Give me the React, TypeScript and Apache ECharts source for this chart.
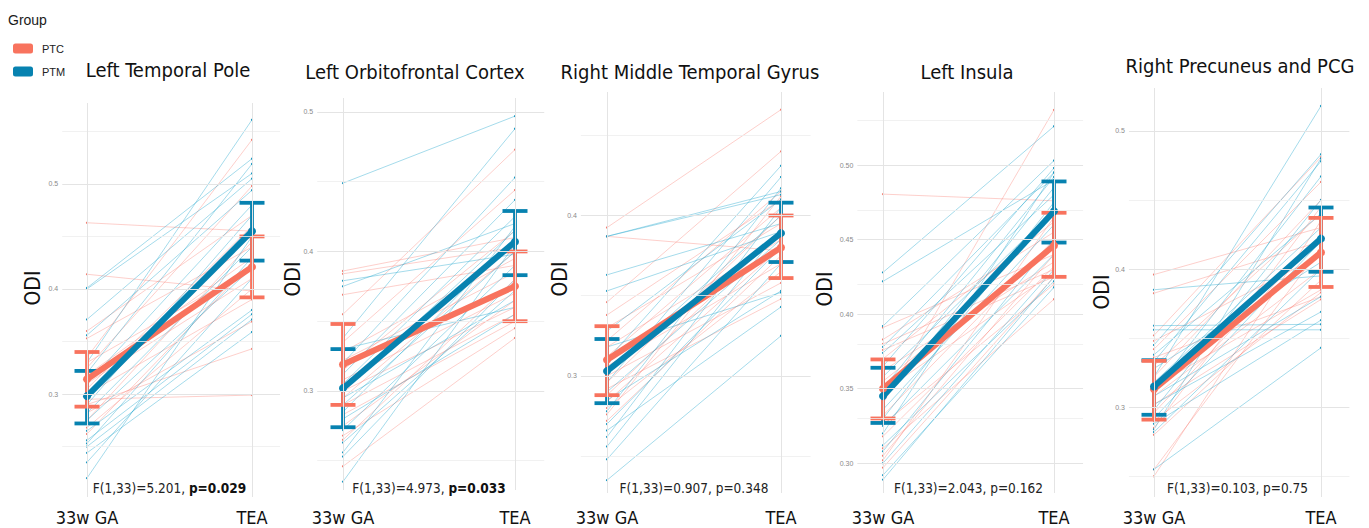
import React, { useEffect, useRef } from "react";
import * as echarts from "echarts";

// ---------- data ----------
const groups = ["PTC", "PTM"];
const timepoints = ["33w GA", "TEA"];
const regions = [
  "Left Temporal Pole",
  "Left Orbitofrontal Cortex",
  "Right Middle Temporal Gyrus",
  "Left Insula",
  "Right Precuneus and PCG",
];
const fLabels = ["F(1,33)=5.201, ", "F(1,33)=4.973, ", "F(1,33)=0.907, ", "F(1,33)=2.043, ", "F(1,33)=0.103, "];
const pLabels = ["p=0.029", "p=0.033", "p=0.348", "p=0.162", "p=0.75"];
const pSignificant = [true, true, false, false, false];

// individual subjects: [33w GA, TEA]
const ltpPTC = [[0.463,0.455],[0.414,0.398],[0.360,0.470],[0.353,0.440],[0.335,0.542],[0.330,0.420],[0.325,0.498],[0.318,0.430],[0.310,0.410],[0.305,0.460],[0.300,0.390],[0.295,0.299],[0.290,0.343],[0.282,0.369],[0.275,0.445],[0.268,0.400],[0.262,0.425]];
const ltpPTM = [[0.401,0.524],[0.400,0.510],[0.371,0.505],[0.356,0.494],[0.330,0.561],[0.320,0.519],[0.310,0.480],[0.300,0.455],[0.290,0.470],[0.282,0.440],[0.275,0.420],[0.265,0.380],[0.256,0.376],[0.253,0.430],[0.250,0.371],[0.244,0.359],[0.235,0.410],[0.220,0.450]];

const lofcPTC = [[0.386,0.410],[0.384,0.403],[0.369,0.390],[0.355,0.473],[0.335,0.444],[0.328,0.395],[0.322,0.385],[0.315,0.415],[0.308,0.370],[0.300,0.360],[0.295,0.400],[0.290,0.355],[0.283,0.350],[0.275,0.365],[0.268,0.345],[0.265,0.380],[0.246,0.338]];
const lofcPTM = [[0.449,0.497],[0.379,0.398],[0.375,0.420],[0.338,0.488],[0.330,0.360],[0.320,0.453],[0.312,0.437],[0.305,0.425],[0.300,0.415],[0.295,0.365],[0.290,0.400],[0.285,0.410],[0.280,0.355],[0.272,0.390],[0.263,0.372],[0.256,0.418],[0.253,0.380],[0.235,0.405]];

const rmtgPTC = [[0.3925,0.466],[0.387,0.378],[0.346,0.440],[0.338,0.410],[0.330,0.395],[0.322,0.415],[0.318,0.385],[0.312,0.405],[0.306,0.370],[0.300,0.358],[0.296,0.400],[0.292,0.348],[0.288,0.390],[0.284,0.380],[0.280,0.365],[0.276,0.412],[0.272,0.375]];
const rmtgPTM = [[0.387,0.413],[0.387,0.415],[0.363,0.395],[0.353,0.390],[0.328,0.410],[0.318,0.352],[0.310,0.431],[0.302,0.400],[0.296,0.424],[0.290,0.385],[0.285,0.353],[0.278,0.417],[0.270,0.380],[0.266,0.343],[0.262,0.405],[0.256,0.392],[0.248,0.370],[0.235,0.325]];

const linsPTC = [[0.4805,0.476],[0.391,0.440],[0.383,0.455],[0.380,0.430],[0.376,0.425],[0.370,0.462],[0.362,0.435],[0.355,0.445],[0.348,0.428],[0.340,0.537],[0.332,0.450],[0.326,0.420],[0.318,0.432],[0.310,0.410],[0.305,0.440],[0.302,0.465],[0.297,0.425]];
const linsPTM = [[0.428,0.526],[0.422,0.490],[0.392,0.503],[0.378,0.495],[0.374,0.480],[0.365,0.498],[0.358,0.470],[0.350,0.492],[0.342,0.485],[0.336,0.460],[0.330,0.475],[0.325,0.440],[0.320,0.495],[0.312,0.422],[0.308,0.450],[0.300,0.430],[0.292,0.418],[0.289,0.425]];

const rpcgPTC = [[0.396,0.430],[0.3825,0.420],[0.352,0.481],[0.348,0.410],[0.342,0.463],[0.336,0.380],[0.330,0.440],[0.322,0.450],[0.315,0.385],[0.308,0.400],[0.302,0.378],[0.296,0.425],[0.290,0.383],[0.285,0.445],[0.280,0.392],[0.255,0.415],[0.250,0.435]];
const rpcgPTM = [[0.385,0.395],[0.359,0.360],[0.356,0.356],[0.345,0.483],[0.338,0.440],[0.333,0.478],[0.328,0.405],[0.322,0.518],[0.318,0.430],[0.312,0.467],[0.308,0.380],[0.302,0.369],[0.298,0.450],[0.292,0.420],[0.288,0.363],[0.284,0.480],[0.282,0.400],[0.255,0.343]];

const subjectsPTC = [ltpPTC, lofcPTC, rmtgPTC, linsPTC, rpcgPTC];
const subjectsPTM = [ltpPTM, lofcPTM, rmtgPTM, linsPTM, rpcgPTM];

// group means [GA, TEA]
const meansPTC = [[0.314,0.421],[0.319,0.375],[0.310,0.380],[0.350,0.446],[0.313,0.412]];
const meansPTM = [[0.298,0.455],[0.302,0.407],[0.303,0.389],[0.345,0.469],[0.315,0.422]];
// error bars: [[GA lo, GA hi], [TEA lo, TEA hi]]
const errPTC = [
  [[0.288,0.340],[0.392,0.450]],
  [[0.290,0.348],[0.350,0.400]],
  [[0.288,0.331],[0.361,0.400]],
  [[0.330,0.3696],[0.425,0.468]],
  [[0.291,0.3335],[0.387,0.437]],
];
const errPTM = [
  [[0.272,0.322],[0.427,0.482]],
  [[0.274,0.330],[0.383,0.429]],
  [[0.283,0.323],[0.371,0.408]],
  [[0.327,0.364],[0.448,0.489]],
  [[0.2945,0.334],[0.398,0.4445]],
];

// axis settings
const yRanges = [[0.202,0.577],[0.229,0.510],[0.227,0.477],[0.280,0.549],[0.235,0.531]];
const yLabelSteps = [0.1, 0.1, 0.1, 0.05, 0.1];
const yDecimals = [1, 1, 1, 2, 1];

// ---------- layout (pixels) ----------
const panels = [
  { ga: 87, tea: 252, top: 103, bottom: 497, titleX: 168, titleY: 70, odiX: 33, odiY: 288 },
  { ga: 343, tea: 515, top: 98, bottom: 490, titleX: 415, titleY: 72, odiX: 293, odiY: 279 },
  { ga: 607, tea: 781, top: 92, bottom: 493, titleX: 690, titleY: 72, odiX: 560, odiY: 279 },
  { ga: 883, tea: 1054, top: 92, bottom: 493, titleX: 967, titleY: 72, odiX: 825, odiY: 289 },
  { ga: 1154, tea: 1321, top: 88, bottom: 497, titleX: 1240, titleY: 66, odiX: 1102, odiY: 292 },
];

const RED = "#F8735E";
const BLUE = "#0782B0";
const RED_THIN = "rgba(248,120,108,0.45)";
const BLUE_THIN = "rgba(30,165,205,0.5)";
const RED_DOT = "#F47A6E";
const BLUE_DOT = "#1496C0";
const COND = "'Liberation Sans Narrow', 'DejaVu Sans Condensed', 'Roboto Condensed', sans-serif";
const PLAIN = "'Liberation Sans', Arial, sans-serif";

export default function App() {
  const ref = useRef<HTMLDivElement>(null);

  useEffect(() => {
    if (!ref.current) return;
    const chart = echarts.init(ref.current, null, { renderer: "svg" });

    const grids: any[] = [];
    const xAxes: any[] = [];
    const yAxes: any[] = [];
    const series: any[] = [];
    const graphics: any[] = [];

    panels.forEach((pl, i) => {
      const unit = pl.tea - pl.ga;
      const [yMin, yMax] = yRanges[i];
      const step = yLabelSteps[i];
      grids.push({ left: pl.ga - 0.15 * unit, top: pl.top, width: 1.32 * unit, height: pl.bottom - pl.top });
      xAxes.push({
        type: "value",
        gridIndex: i,
        min: -0.15,
        max: 1.17,
        minInterval: 1,
        maxInterval: 1,
        axisLine: { show: false },
        axisTick: { show: false },
        splitLine: { show: false },
        axisLabel: {
          showMinLabel: false,
          showMaxLabel: false,
          margin: 517 - pl.bottom - 9,
          fontSize: 18,
          fontFamily: COND,
          color: "#111",
          formatter: (v: number) => (Math.abs(v - Math.round(v)) < 1e-6 ? timepoints[Math.round(v)] ?? "" : ""),
        },
      });
      yAxes.push({
        type: "value",
        gridIndex: i,
        min: yMin,
        max: yMax,
        minInterval: step,
        maxInterval: step,
        axisLine: { show: false },
        axisTick: { show: false },
        splitLine: { show: false },
        axisLabel: {
          showMinLabel: false,
          showMaxLabel: false,
          margin: 4,
          fontSize: 7,
          fontFamily: PLAIN,
          color: "#8a8a8a",
          formatter: (v: number) => {
            const k = Math.round(v / step);
            return Math.abs(v - k * step) < 1e-6 ? v.toFixed(yDecimals[i]) : "";
          },
        },
      });

      // gridlines (major at label steps, minor halfway) + vertical lines at timepoints
      const half = step / 2;
      const gridData: any[] = [];
      for (let k = Math.ceil(yMin / half - 1e-9); k * half <= yMax + 1e-9; k++) {
        const v = +(k * half).toFixed(4);
        const major = k % 2 === 0;
        gridData.push({ yAxis: v, lineStyle: { color: major ? "#e4e4e4" : "#eeeeee", width: major ? 1 : 0.8, type: "solid" } });
      }
      [0, 1].forEach((x) => gridData.push({ xAxis: x, lineStyle: { color: "#e4e4e4", width: 1, type: "solid" } }));
      series.push({
        type: "line",
        name: "grid" + i,
        xAxisIndex: i,
        yAxisIndex: i,
        data: [],
        silent: true,
        markLine: { silent: true, symbol: ["none", "none"], label: { show: false }, emphasis: { disabled: true }, data: gridData },
      });

      // individual subject trajectories
      [subjectsPTC[i], subjectsPTM[i]].forEach((subj, gi) => {
        series.push({
          type: "custom",
          name: groups[gi] + " subjects",
          xAxisIndex: i,
          yAxisIndex: i,
          silent: true,
          data: subj,
          renderItem: (_p: any, api: any) => {
            const a = api.coord([0, api.value(0)]);
            const b = api.coord([1, api.value(1)]);
            const dot = gi === 0 ? RED_DOT : BLUE_DOT;
            return {
              type: "group",
              children: [
                { type: "line", shape: { x1: a[0], y1: a[1], x2: b[0], y2: b[1] }, style: { stroke: gi === 0 ? RED_THIN : BLUE_THIN, lineWidth: 0.8 } },
                { type: "circle", shape: { cx: a[0], cy: a[1], r: 1.1 }, style: { fill: dot } },
                { type: "circle", shape: { cx: b[0], cy: b[1], r: 1.1 }, style: { fill: dot } },
              ],
            };
          },
        });
      });

      // mean lines
      [meansPTC[i], meansPTM[i]].forEach((m, gi) => {
        const c = gi === 0 ? RED : BLUE;
        series.push({
          type: "line",
          name: groups[gi],
          xAxisIndex: i,
          yAxisIndex: i,
          silent: true,
          data: [[0, m[0]], [1, m[1]]],
          symbol: "circle",
          symbolSize: 8,
          lineStyle: { color: c, width: 6 },
          itemStyle: { color: c },
        });
      });

      // error bars (PTM first, PTC on top)
      [[errPTM[i], 1], [errPTC[i], 0]].forEach(([err, gi]: any) => {
        const c = gi === 0 ? RED : BLUE;
        series.push({
          type: "custom",
          name: groups[gi] + " error",
          xAxisIndex: i,
          yAxisIndex: i,
          silent: true,
          data: [[0, err[0][0], err[0][1]], [1, err[1][0], err[1][1]]],
          encode: { x: 0, y: [1, 2] },
          renderItem: (_p: any, api: any) => {
            const lo = api.coord([api.value(0), api.value(1)]);
            const hi = api.coord([api.value(0), api.value(2)]);
            const w = 12.5;
            const st = { stroke: c, lineWidth: 3.8 };
            return {
              type: "group",
              children: [
                { type: "line", shape: { x1: lo[0], y1: lo[1], x2: hi[0], y2: hi[1] }, style: st },
                { type: "line", shape: { x1: lo[0] - w, y1: lo[1], x2: lo[0] + w, y2: lo[1] }, style: st },
                { type: "line", shape: { x1: hi[0] - w, y1: hi[1], x2: hi[0] + w, y2: hi[1] }, style: st },
              ],
            };
          },
        });
      });

      // titles, axis title, statistics
      graphics.push({
        type: "text",
        x: pl.titleX,
        y: pl.titleY,
        silent: true,
        style: { text: regions[i], fill: "#111", font: `20px ${COND}`, textAlign: "center", textVerticalAlign: "middle" },
      });
      graphics.push({
        type: "text",
        x: pl.odiX,
        y: pl.odiY,
        rotation: Math.PI / 2,
        silent: true,
        style: { text: "ODI", fill: "#111", font: `21px ${COND}`, textAlign: "center", textVerticalAlign: "middle" },
      });
      graphics.push({
        type: "text",
        x: (pl.ga + pl.tea) / 2,
        y: 488,
        silent: true,
        style: {
          text: `{n|${fLabels[i]}}{${pSignificant[i] ? "b" : "n"}|${pLabels[i]}}`,
          textAlign: "center",
          textVerticalAlign: "middle",
          rich: {
            n: { fontSize: 13.5, fontFamily: COND, fill: "#222", color: "#222" },
            b: { fontSize: 13.5, fontFamily: COND, fontWeight: "bold", fill: "#111", color: "#111" },
          },
        },
      });
    });

    graphics.push({
      type: "text",
      x: 8,
      y: 20,
      silent: true,
      style: { text: "Group", fill: "#1a1a1a", font: `14px ${PLAIN}`, textVerticalAlign: "middle" },
    });

    chart.setOption({
      animation: false,
      backgroundColor: "#ffffff",
      grid: grids,
      xAxis: xAxes,
      yAxis: yAxes,
      legend: {
        orient: "vertical",
        left: 8,
        top: 38,
        itemWidth: 20,
        itemHeight: 10,
        itemGap: 12,
        icon: "roundRect",
        selectedMode: false,
        textStyle: { fontSize: 11, fontFamily: PLAIN, color: "#222", padding: [0, 0, 0, 4] },
        data: [
          { name: groups[0], itemStyle: { color: RED } },
          { name: groups[1], itemStyle: { color: BLUE } },
        ],
      },
      graphic: graphics,
      series,
    });

    return () => chart.dispose();
  }, []);

  return <div ref={ref} style={{ position: "absolute", left: 0, top: 0, width: 1369, height: 528 }} />;
}
